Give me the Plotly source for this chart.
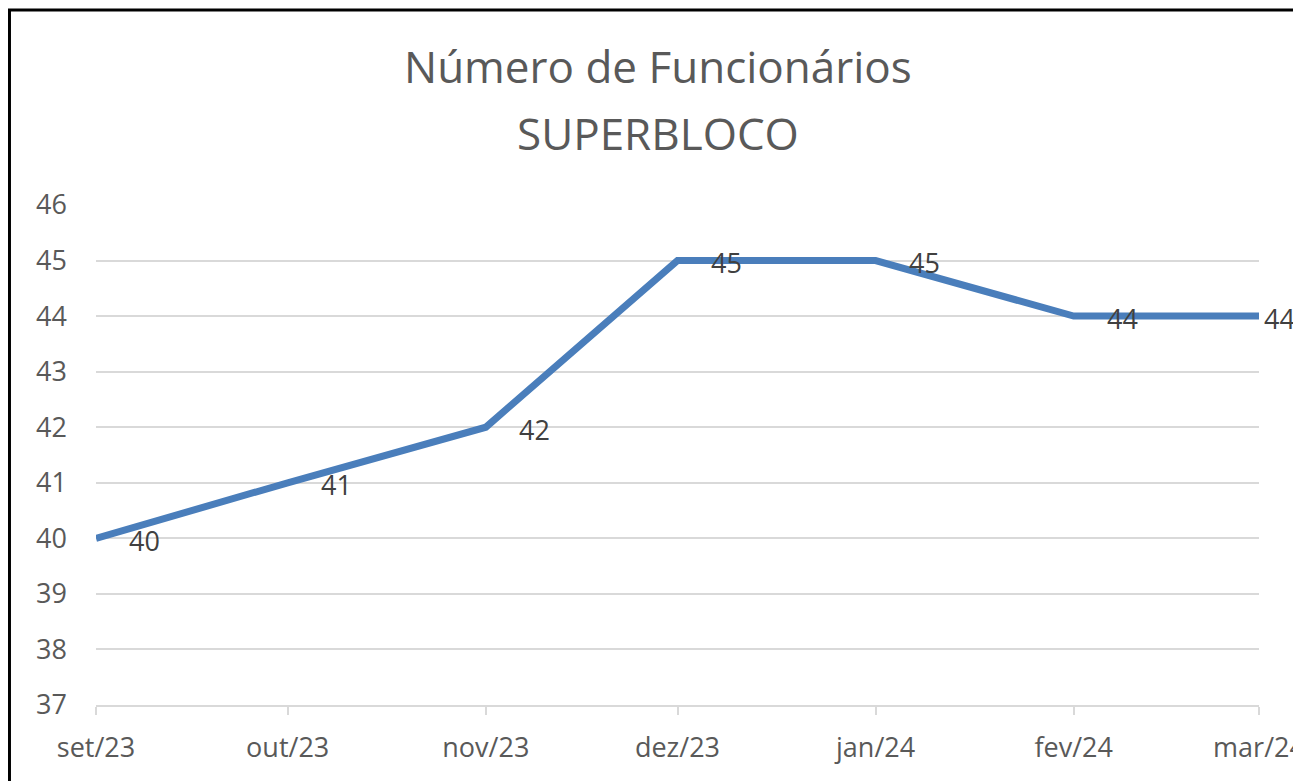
import plotly.graph_objects as go

months = ["2023-09-01", "2023-10-01", "2023-11-01", "2023-12-01", "2024-01-01", "2024-02-01", "2024-03-01"]
month_labels = ["set/23", "out/23", "nov/23", "dez/23", "jan/24", "fev/24", "mar/24"]
employees = [40, 41, 42, 45, 45, 44, 44]
y_ticks = [37, 38, 39, 40, 41, 42, 43, 44, 45, 46]
title_lines = ["Número de Funcionários", "SUPERBLOCO"]

FONT = "Open Sans"
W, H = 1293, 773
ML, MR, MT, MB = 88, 42, 197, 76

fig = go.Figure()
fig.add_trace(go.Scatter(
    x=months, y=employees,
    mode="lines",
    line=dict(color="#4a7ebb", width=7),
    hoverinfo="skip",
))

# data labels (Excel-style, right of the point; last one squeezed at the edge)
for i, (m, v) in enumerate(zip(months, employees)):
    fig.add_annotation(
        x=m, y=v, xref="x", yref="y",
        text=str(v), showarrow=False,
        xanchor="left", yanchor="middle",
        xshift=3 if i == len(months) - 1 else 31, yshift=-2,
        font=dict(family=FONT, size=27, color="#404040"),
    )

# title lines
for txt, yp in zip(title_lines, [1.279, 1.144]):
    fig.add_annotation(
        x=0.4832, y=yp, xref="paper", yref="paper",
        text=txt, showarrow=False,
        xanchor="center", yanchor="middle",
        font=dict(family=FONT, size=44, color="#595959"),
    )

fig.update_layout(
    width=W, height=H,
    paper_bgcolor="white", plot_bgcolor="white",
    margin=dict(l=ML, r=MR, t=MT, b=MB, autoexpand=False),
    showlegend=False,
)

fig.update_xaxes(
    type="date",
    range=[months[0], months[-1]],
    tickvals=months, ticktext=month_labels,
    showgrid=False,
    showline=True, linecolor="#d9d9d9", linewidth=2,
    ticks="outside", ticklen=8, tickwidth=2, tickcolor="#d9d9d9",
    ticklabelstandoff=10,
    ticklabeloverflow="allow",
    automargin=False,
    tickfont=dict(family=FONT, size=27, color="#595959"),
    zeroline=False,
)
fig.update_yaxes(
    range=[37, 46],
    tickvals=y_ticks,
    showgrid=True, gridcolor="#d9d9d9", gridwidth=2,
    showline=False, zeroline=False,
    automargin=False,
    ticks="", ticklabelstandoff=28,
    tickfont=dict(family=FONT, size=27, color="#595959"),
)

fig.add_shape(
    type="rect", xref="paper", yref="paper",
    x0=-0.0744, x1=1.0335, y0=-0.3, y1=1.390,
    line=dict(color="black", width=3), fillcolor="rgba(0,0,0,0)",
    layer="above",
)

fig.write_html("out.html")
